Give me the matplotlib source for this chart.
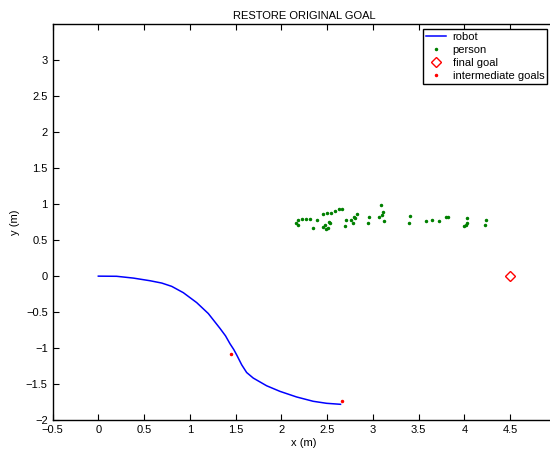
import matplotlib
matplotlib.use("Agg")
import matplotlib.pyplot as plt

plt.rcParams["font.family"] = ["Liberation Sans", "DejaVu Sans"]
plt.rcParams["font.size"] = 8

robot_x = [0.0, 0.20, 0.383, 0.566, 0.693, 0.802, 0.929, 1.075, 1.202, 1.330,
           1.39, 1.439, 1.48, 1.512, 1.567, 1.621, 1.693, 1.839, 1.985, 2.167,
           2.348, 2.494, 2.647]
robot_y = [0.0, -0.002, -0.027, -0.064, -0.096, -0.142, -0.230, -0.368, -0.520, -0.727,
           -0.83, -0.94, -1.02, -1.095, -1.233, -1.340, -1.417, -1.524, -1.602, -1.680,
           -1.740, -1.768, -1.782]

person_x = [2.159, 2.181, 2.185, 2.225, 2.269, 2.312, 2.349, 2.385, 2.458, 2.476,
            2.458, 2.483, 2.505, 2.498, 2.520, 2.527, 2.541, 2.585, 2.625, 2.658,
            2.694, 2.705, 2.760, 2.782, 2.793, 2.800, 2.822, 2.949, 2.960, 3.066,
            3.084, 3.098, 3.109, 3.117, 3.393, 3.404, 3.579, 3.648, 3.721, 3.797,
            3.826, 3.993, 4.015, 4.030, 4.033, 4.230, 4.237]
person_y = [0.733, 0.705, 0.783, 0.788, 0.792, 0.797, 0.668, 0.779, 0.861, 0.705,
            0.677, 0.654, 0.663, 0.875, 0.756, 0.737, 0.880, 0.903, 0.930, 0.935,
            0.696, 0.783, 0.779, 0.742, 0.825, 0.806, 0.861, 0.733, 0.825, 0.829,
            0.995, 0.857, 0.898, 0.760, 0.733, 0.838, 0.769, 0.783, 0.769, 0.820,
            0.825, 0.700, 0.705, 0.742, 0.806, 0.709, 0.779]

goal_x = [4.5]
goal_y = [0.0]

inter_x = [1.450, 2.662]
inter_y = [-1.086, -1.731]

x_ticks = [-0.5, 0, 0.5, 1, 1.5, 2, 2.5, 3, 3.5, 4, 4.5]
y_ticks = [-2, -1.5, -1, -0.5, 0, 0.5, 1, 1.5, 2, 2.5, 3]

fig = plt.figure(figsize=(5.5, 4.5), dpi=100)
ax = fig.add_axes([0.0956, 0.0667, 0.915, 0.879])

ax.plot(robot_x, robot_y, color="blue", linewidth=1.1, label="robot")
ax.plot(person_x, person_y, linestyle="none", marker=".", markersize=3,
        color=(0, 0.5, 0), label="person")
ax.plot(goal_x, goal_y, linestyle="none", marker="D", markersize=5,
        markerfacecolor="none", markeredgecolor="red", markeredgewidth=1,
        label="final goal")
ax.plot(inter_x, inter_y, linestyle="none", marker=".", markersize=3,
        color="red", label="intermediate goals")

ax.set_xlim(-0.5, 5)
ax.set_ylim(-2, 3.5)
ax.set_xticks(x_ticks)
ax.set_yticks(y_ticks)
ax.set_xticklabels(["\u22120.5", "0", "0.5", "1", "1.5", "2", "2.5", "3", "3.5", "4", "4.5"])
ax.set_yticklabels(["\u22122", "\u22121.5", "\u22121", "\u22120.5", "0", "0.5", "1", "1.5", "2", "2.5", "3"])
ax.tick_params(direction="in", top=True, right=True, length=4, width=0.8, labelsize=8)
for s in ax.spines.values():
    s.set_linewidth(1)

ax.set_xlabel("x (m)", labelpad=2)
ax.set_ylabel("y (m)", labelpad=4)
ax.set_title("RESTORE ORIGINAL GOAL", fontsize=8, pad=4)

leg = ax.legend(loc="upper right", bbox_to_anchor=(0.99, 0.997), fancybox=False,
                edgecolor="black", framealpha=1, borderpad=0.3, labelspacing=0.25,
                handlelength=1.8, handletextpad=0.6, borderaxespad=0.3,
                fontsize=8)
leg.get_frame().set_linewidth(1)

fig.savefig("out.png", dpi=100)
